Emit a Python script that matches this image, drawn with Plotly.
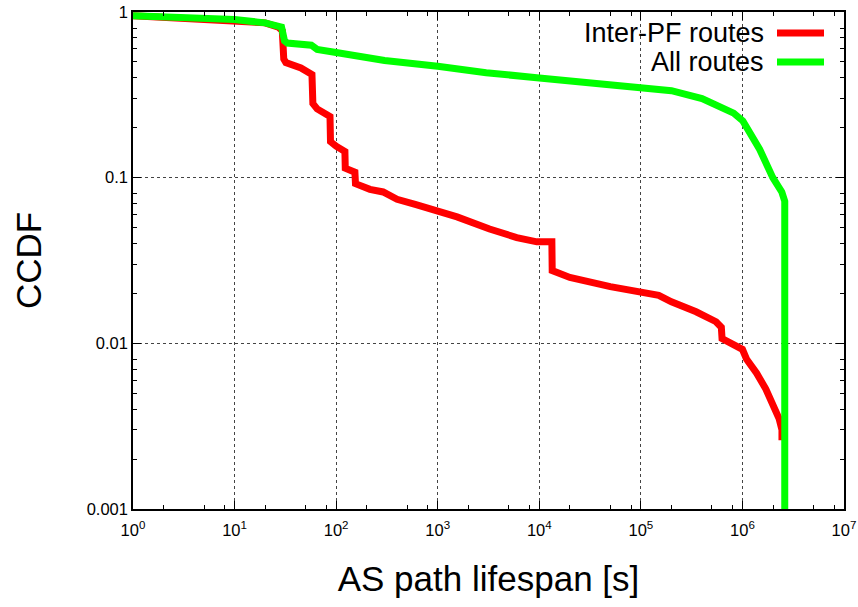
import plotly.graph_objects as go

# ---- data (CCDF of AS path lifespan) ----
inter_pf_x = [1, 10, 20, 27, 29.5, 30.5, 32, 45, 57.8, 59, 65, 87, 88, 100, 122, 123, 153, 155,
              215, 290, 398, 600, 1000, 1550, 3240, 6000, 9460, 13300, 13400, 20000, 50000,
              100000, 150000, 200000, 350000, 550000, 620000, 630000, 900000, 1000000,
              1100000, 1380000, 1700000, 2000000, 2300000, 2450000, 2450000]
inter_pf_y = [0.95, 0.895, 0.86, 0.81, 0.77, 0.52, 0.495, 0.46, 0.42, 0.28, 0.26, 0.234, 0.165,
              0.155, 0.144, 0.114, 0.108, 0.092, 0.085, 0.082, 0.074, 0.069, 0.0625, 0.058,
              0.049, 0.0435, 0.041, 0.041, 0.0275, 0.025, 0.022, 0.0205, 0.0195, 0.0178,
              0.0155, 0.0135, 0.0125, 0.0107, 0.0096, 0.0092, 0.0080, 0.0066, 0.0053, 0.0042,
              0.0035, 0.0030, 0.0026]

all_x = [1, 3, 10, 20, 27, 29, 31, 33, 57, 60, 65, 100, 300, 1000, 3000, 10000, 30000,
         100000, 200000, 400000, 640000, 820000, 1010000, 1180000, 1480000, 1990000, 2440000,
         2610000, 2610000]
all_y = [0.95, 0.93, 0.90, 0.86, 0.83, 0.81, 0.67, 0.65, 0.63, 0.61, 0.595, 0.57, 0.51, 0.47,
         0.43, 0.40, 0.375, 0.355, 0.335, 0.30, 0.265, 0.245, 0.22, 0.19, 0.148, 0.10, 0.082,
         0.072, 0.0009]

series_names = ["Inter-PF routes", "All routes"]
series_colors = ["#ff0000", "#00ff00"]

x_major = [10 ** k for k in range(0, 8)]
x_major_text = ["10<sup>%d</sup>" % k for k in range(0, 8)]
x_minor = [m * 10 ** k for k in range(0, 7) for m in (2, 5, 8)]
y_major = [0.001, 0.01, 0.1, 1]
y_major_text = ["0.001", "0.01", "0.1", "1"]
y_minor = [m * 10 ** k for k in (-3, -2, -1) for m in (2, 3, 4, 5, 6, 7, 8)]

FONT = "Liberation Sans, Arial, Helvetica, sans-serif"

fig = go.Figure()
fig.add_trace(go.Scatter(x=inter_pf_x, y=inter_pf_y, mode="lines", name=series_names[0],
                         line=dict(color=series_colors[0], width=7), showlegend=False))
fig.add_trace(go.Scatter(x=all_x, y=all_y, mode="lines", name=series_names[1],
                         line=dict(color=series_colors[1], width=7), showlegend=False))

L, R, T, B = 133, 844, 12, 509
W, H = 858, 607

def px2paper_x(px):
    return (px - L) / (R - L)

def px2paper_y(py):
    return (B - py) / (B - T)

# legend (text right-aligned, sample line to the right, gnuplot style)
for i, (name, col) in enumerate(zip(series_names, series_colors)):
    yc = 33 + i * 29
    fig.add_annotation(x=px2paper_x(766), y=px2paper_y(yc), xref="paper", yref="paper",
                       text=name, showarrow=False, xanchor="right", yanchor="middle",
                       font=dict(family=FONT, size=27, color="black"))
    fig.add_shape(type="line", xref="paper", yref="paper",
                  x0=px2paper_x(777), x1=px2paper_x(824),
                  y0=px2paper_y(yc), y1=px2paper_y(yc),
                  line=dict(color=col, width=7))

axis_common = dict(
    showline=True, linecolor="black", linewidth=1.5, mirror="allticks",
    ticks="inside", ticklen=8, tickcolor="black", tickwidth=1,
    showgrid=True, gridcolor="#444444", griddash="dot", gridwidth=1,
    zeroline=False, tickfont=dict(family=FONT, size=16.5, color="black"),
)

fig.update_xaxes(type="log", range=[0, 7], tickmode="array", tickvals=x_major,
                 ticktext=x_major_text, ticklabelstandoff=5,
                 minor=dict(tickmode="array", tickvals=x_minor, ticks="inside", ticklen=4,
                            tickcolor="black", showgrid=False),
                 title=dict(text="AS path lifespan [s]", font=dict(family=FONT, size=35, color="black"),
                            standoff=29),
                 **axis_common)
fig.update_yaxes(type="log", range=[-3, 0], tickmode="array", tickvals=y_major,
                 ticktext=y_major_text,
                 minor=dict(tickmode="array", tickvals=y_minor, ticks="inside", ticklen=4,
                            tickcolor="black", showgrid=False),
                 title=dict(text="CCDF", font=dict(family=FONT, size=35, color="black"),
                            standoff=34),
                 **axis_common)

fig.update_layout(width=W, height=H, margin=dict(l=L, r=W - R, t=T, b=H - B, autoexpand=False),
                  plot_bgcolor="white", paper_bgcolor="white", showlegend=False)

fig.write_html("out.html")
